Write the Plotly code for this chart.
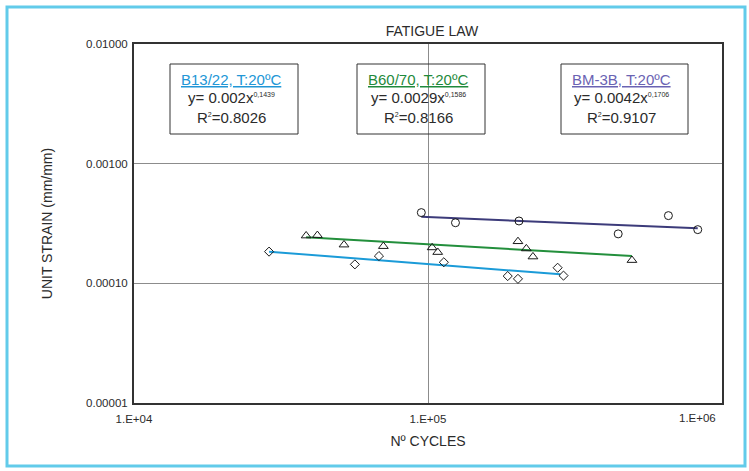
import plotly.graph_objects as go

# ---------------- data ----------------
cycles_b13 = [28800, 56400, 68100, 113200, 186700, 202300, 276000, 289000]
strain_b13 = [1.84e-4, 1.44e-4, 1.69e-4, 1.50e-4, 1.15e-4, 1.09e-4, 1.35e-4, 1.16e-4]

cycles_b60 = [38500, 42050, 51800, 70500, 103300, 107900, 202300, 216000, 227500, 494000]
strain_b60 = [2.50e-4, 2.52e-4, 2.10e-4, 2.04e-4, 1.99e-4, 1.82e-4, 2.24e-4, 1.95e-4, 1.67e-4, 1.56e-4]

cycles_bm3b = [94900, 124000, 203900, 443500, 657300, 827000]
strain_bm3b = [3.90e-4, 3.21e-4, 3.32e-4, 2.59e-4, 3.68e-4, 2.81e-4]

trend_b13_x = [28800, 281800]
trend_b13_y = [1.84e-4, 1.19e-4]
trend_b60_x = [38500, 494000]
trend_b60_y = [2.43e-4, 1.69e-4]
trend_bm3b_x = [94900, 827000]
trend_bm3b_y = [3.60e-4, 2.88e-4]

series_names = ["B13/22, T:20ºC", "B60/70, T:20ºC", "BM-3B, T:20ºC"]
eq_coef = ["0.002", "0.0029", "0.0042"]
eq_exp = ["0,1439", "0,1586", "0,1706"]
eq_r2 = ["0.8026", "0.8166", "0.9107"]

x_tick_vals = [1e4, 1e5, 1e6]
x_tick_text = ["1.E+04", "1.E+05", "1.E+06"]
y_tick_vals = [1e-5, 1e-4, 1e-3, 1e-2]
y_tick_text = ["0.00001", "0.00010", "0.00100", "0.01000"]

# ---------------- style ----------------
W, H = 749, 471
ML, MR, MT, MB = 134, 27, 44, 68
PW, PH = W - ML - MR, H - MT - MB
FONT = "Liberation Sans, Arial, sans-serif"
TXT = "#2b2b2b"
line_colors = ["#1b9bd8", "#238f3c", "#3c3b7a"]
title_colors = ["#2196d6", "#1f8a3c", "#6a63b3"]


def px_x(p):
    return (p - ML) / PW


def px_y(p):
    return (H - MB - p) / PH


fig = go.Figure()

for tx, ty, c in [(trend_b13_x, trend_b13_y, line_colors[0]),
                  (trend_b60_x, trend_b60_y, line_colors[1]),
                  (trend_bm3b_x, trend_bm3b_y, line_colors[2])]:
    fig.add_trace(go.Scatter(x=tx, y=ty, mode="lines",
                             line=dict(color=c, width=2), showlegend=False,
                             hoverinfo="skip"))

for xs, ys, sym, sz in [(cycles_b13, strain_b13, "diamond-open", 7),
                        (cycles_b60, strain_b60, "triangle-up-open", 8.5),
                        (cycles_bm3b, strain_bm3b, "circle-open", 8)]:
    fig.add_trace(go.Scatter(x=xs, y=ys, mode="markers",
                             marker=dict(symbol=sym, size=sz, color="#1a1a1a",
                                         line=dict(width=1, color="#1a1a1a")),
                             showlegend=False))

# equation boxes
boxes = [(170, 298), (357, 485), (561, 688)]
annotations = []
shapes = []
for i, (bx0, bx1) in enumerate(boxes):
    shapes.append(dict(type="rect", xref="paper", yref="paper",
                       x0=px_x(bx0), x1=px_x(bx1), y0=px_y(134), y1=px_y(64),
                       line=dict(color="#333333", width=1), fillcolor="rgba(0,0,0,0)"))
    cx = px_x((bx0 + bx1) / 2 - 3)
    annotations.append(dict(xref="paper", yref="paper", x=cx, y=px_y(79),
                            text="<u>" + series_names[i] + "</u>", showarrow=False,
                            font=dict(family=FONT, size=15, color=title_colors[i]),
                            xanchor="center", yanchor="middle"))
    annotations.append(dict(xref="paper", yref="paper", x=cx, y=px_y(98),
                            text="y= " + eq_coef[i] + "x<sup><span style='font-size:7px'>"
                                 + eq_exp[i] + "</span></sup>",
                            showarrow=False,
                            font=dict(family=FONT, size=15, color=TXT),
                            xanchor="center", yanchor="middle"))
    annotations.append(dict(xref="paper", yref="paper", x=cx, y=px_y(117),
                            text="R<sup><span style='font-size:7px'>2</span></sup>=" + eq_r2[i],
                            showarrow=False,
                            font=dict(family=FONT, size=15, color=TXT),
                            xanchor="center", yanchor="middle"))

# the last x tick label sits shifted left, inside the frame, as in the reference
annotations.append(dict(xref="paper", yref="paper", x=px_x(697), y=px_y(418),
                        text=x_tick_text[-1], showarrow=False,
                        font=dict(family=FONT, size=11.5, color=TXT),
                        xanchor="center", yanchor="middle"))
x_tick_labels = x_tick_text[:-1] + [""]

# outer light-blue frame
shapes.append(dict(type="rect", xref="paper", yref="paper",
                   x0=px_x(7), x1=px_x(745), y0=px_y(466), y1=px_y(7),
                   line=dict(color="#62cbea", width=3), layer="below"))

fig.update_layout(
    width=W, height=H,
    margin=dict(l=ML, r=MR, t=MT, b=MB, pad=0, autoexpand=False),
    paper_bgcolor="white", plot_bgcolor="white",
    font=dict(family=FONT, color=TXT),
    title=dict(text="FATIGUE LAW", x=px_x(432), xref="paper", xanchor="center",
               y=1 - 31 / H, yref="container", yanchor="middle",
               font=dict(family=FONT, size=14, color=TXT)),
    shapes=shapes,
    annotations=annotations,
    showlegend=False,
)

fig.update_xaxes(type="log", range=[4, 6], tickvals=x_tick_vals, ticktext=x_tick_labels,
                 automargin=False,
                 showgrid=True, gridcolor="#8c8c8c", gridwidth=1,
                 showline=True, mirror=True, linecolor="#333333", linewidth=2,
                 ticks="outside", ticklen=4, tickcolor="rgba(0,0,0,0)",
                 tickfont=dict(family=FONT, size=11.5, color=TXT),
                 title=dict(text="Nº CYCLES", standoff=12,
                            font=dict(family=FONT, size=14, color=TXT)))
fig.update_yaxes(type="log", range=[-5, -2], tickvals=y_tick_vals, ticktext=y_tick_text,
                 automargin=False,
                 showgrid=True, gridcolor="#8c8c8c", gridwidth=1,
                 showline=True, mirror=True, linecolor="#333333", linewidth=2,
                 ticks="outside", ticklen=2, tickcolor="rgba(0,0,0,0)",
                 tickfont=dict(family=FONT, size=11.5, color=TXT),
                 title=dict(text="UNIT STRAIN (mm/mm)", standoff=30,
                            font=dict(family=FONT, size=14, color=TXT)))

fig.write_html("out.html", config={"displayModeBar": False},
               post_script="document.body.style.margin='0';document.body.style.padding='0';")
